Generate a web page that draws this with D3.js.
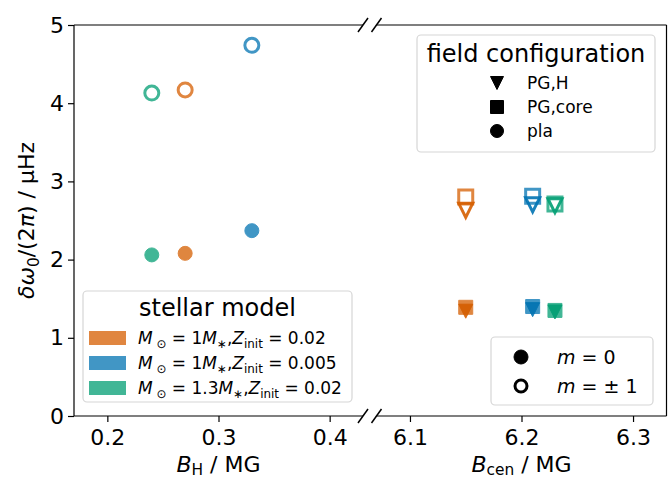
<!DOCTYPE html>
<html>
<head>
<meta charset="utf-8">
<script src="https://cdn.jsdelivr.net/npm/d3@7"></script>
<style>
  html, body { margin: 0; padding: 0; background: #fff; }
  svg { display: block; font-family: "DejaVu Sans", sans-serif; }
</style>
</head>
<body>
<svg id="chart" width="668" height="481"></svg>
<script>
// Stellar models (colour per model)
const models = ["1Msun_Z0.02", "1Msun_Z0.005", "1.3Msun_Z0.02"];
const modelColors = ["#d55e00", "#0173b2", "#029e73"];

// Left panel: "pla" field, x = B_H (MG)
const bH = [0.27, 0.33, 0.24];
const plaM0 = [2.08, 2.37, 2.06];
const plaM1 = [4.17, 4.74, 4.13];

// Right panel: "PG" fields, x = B_cen (MG)
const bCen = [6.15, 6.21, 6.23];
const pgCoreM0 = [1.39, 1.40, 1.35];
const pgCoreM1 = [2.80, 2.81, 2.71];
const pgHM0 = [1.34, 1.36, 1.33];
const pgHM1 = [2.63, 2.70, 2.69];

// Tick values
const yTicks = [0, 1, 2, 3, 4, 5];
const xTicksLeft = [0.2, 0.3, 0.4];
const xTicksRight = [6.1, 6.2, 6.3];

const svg = d3.select("#chart");
const FS_TICK = 22, FS_LABEL = 22, FS_LTITLE = 24, FS_LENTRY = 17;

const y = d3.scaleLinear().domain([0, 5]).range([416, 25]);
const xL = d3.scaleLinear().domain([0.17, 0.43]).range([74, 363]);
const xR = d3.scaleLinear().domain([6.07, 6.33]).range([376.5, 666.5]);

// Rich text helper: segments {t, it, sub}
function rich(sel, segs, fs, shift = 0.22) {
  let shifted = false;
  segs.forEach(s => {
    const ts = sel.append("tspan").text(s.t);
    if (s.it) ts.attr("font-style", "italic");
    if (s.sub) {
      ts.attr("font-size", fs * 0.7);
      if (!shifted) { ts.attr("dy", fs * shift); shifted = true; }
    } else if (shifted) {
      ts.attr("dy", -fs * shift); shifted = false;
    }
  });
  return sel;
}

// Marker shapes
const S = 7;
function markerPath(shape, s = S) {
  if (shape === "tri") return `M${-s},${-s}L${s},${-s}L0,${s}Z`;
  if (shape === "sq") return `M${-s},${-s}H${s}V${s}H${-s}Z`;
  const p = d3.path(); p.arc(0, 0, s, 0, 2 * Math.PI); p.closePath(); return p.toString();
}
function drawMarker(g, cx, cy, shape, color, open, alpha, s = S) {
  g.append("path")
    .attr("d", markerPath(shape, s))
    .attr("transform", `translate(${cx},${cy})`)
    .attr("fill", open ? "none" : color)
    .attr("stroke", color)
    .attr("stroke-width", open ? 3 : 1)
    .attr("stroke-linejoin", "miter")
    .attr("opacity", alpha);
}

// ---- Axes ----
const axG = svg.append("g").attr("fill", "none").attr("stroke", "#000").attr("stroke-width", 1.2);
// left panel spines
axG.append("line").attr("x1", xL.range()[0]).attr("x2", xL.range()[0]).attr("y1", y(5)).attr("y2", y(0));
axG.append("line").attr("x1", xL.range()[0]).attr("x2", xL.range()[1]).attr("y1", y(5)).attr("y2", y(5));
axG.append("line").attr("x1", xL.range()[0]).attr("x2", xL.range()[1]).attr("y1", y(0)).attr("y2", y(0));
// right panel spines
axG.append("line").attr("x1", xR.range()[1]).attr("x2", xR.range()[1]).attr("y1", y(5)).attr("y2", y(0));
axG.append("line").attr("x1", xR.range()[0]).attr("x2", xR.range()[1]).attr("y1", y(5)).attr("y2", y(5));
axG.append("line").attr("x1", xR.range()[0]).attr("x2", xR.range()[1]).attr("y1", y(0)).attr("y2", y(0));
// break marks
[xL.range()[1], xR.range()[0]].forEach(bx => {
  [y(5), y(0)].forEach(by => {
    axG.append("line").attr("x1", bx - 5).attr("y1", by + 7).attr("x2", bx + 5).attr("y2", by - 7)
      .attr("stroke-width", 1.5);
  });
});

function styleAxis(g) {
  g.select(".domain").remove();
  g.selectAll(".tick line").attr("stroke", "#000").attr("stroke-width", 1.2);
  g.selectAll(".tick text").attr("font-size", FS_TICK).attr("fill", "#000")
    .attr("font-family", "DejaVu Sans");
}
svg.append("g").attr("transform", `translate(${xL.range()[0]},0)`)
  .call(d3.axisLeft(y).tickValues(yTicks).tickSize(6).tickPadding(4).tickFormat(d3.format("d")))
  .call(styleAxis);
svg.append("g").attr("transform", `translate(0,${y(0)})`)
  .call(d3.axisBottom(xL).tickValues(xTicksLeft).tickSize(6).tickPadding(7).tickFormat(d3.format(".1f")))
  .call(styleAxis);
svg.append("g").attr("transform", `translate(0,${y(0)})`)
  .call(d3.axisBottom(xR).tickValues(xTicksRight).tickSize(6).tickPadding(7).tickFormat(d3.format(".1f")))
  .call(styleAxis);

// Axis labels
rich(svg.append("text").attr("x", d3.mean(xL.range())).attr("y", 472).attr("text-anchor", "middle")
  .attr("font-size", FS_LABEL),
  [{t: "B", it: true}, {t: "H", sub: true}, {t: " / MG"}], FS_LABEL, 0.15);
rich(svg.append("text").attr("x", d3.mean(xR.range())).attr("y", 472).attr("text-anchor", "middle")
  .attr("font-size", FS_LABEL),
  [{t: "B", it: true}, {t: "cen", sub: true}, {t: " / MG"}], FS_LABEL, 0.15);
rich(svg.append("text").attr("transform", `translate(34,${(y(0) + y(5)) / 2}) rotate(-90)`)
  .attr("text-anchor", "middle").attr("font-size", FS_LABEL),
  [{t: "δω", it: true}, {t: "0", sub: true}, {t: "/(2"}, {t: "π", it: true}, {t: ") / μHz"}], FS_LABEL);

// ---- Data markers ----
const plot = svg.append("g");
const A = 0.75, AT = 0.9;
models.forEach((m, i) => {
  const c = modelColors[i];
  drawMarker(plot, xL(bH[i]), y(plaM0[i]), "circ", c, false, A);
  drawMarker(plot, xL(bH[i]), y(plaM1[i]), "circ", c, true, A);
  drawMarker(plot, xR(bCen[i]), y(pgCoreM0[i]), "sq", c, false, A);
  drawMarker(plot, xR(bCen[i]), y(pgCoreM1[i]), "sq", c, true, A);
  drawMarker(plot, xR(bCen[i]), y(pgHM0[i]), "tri", c, false, AT);
  drawMarker(plot, xR(bCen[i]), y(pgHM1[i]), "tri", c, true, AT);
});

// ---- Legends ----
function legendBox(x0, y0, x1, y1) {
  svg.append("rect").attr("x", x0).attr("y", y0).attr("width", x1 - x0).attr("height", y1 - y0)
    .attr("rx", 4).attr("fill", "#fff").attr("fill-opacity", 0.8)
    .attr("stroke", "#d6d6d6").attr("stroke-width", 1.2);
}

// Field configuration
legendBox(417, 35, 655, 152);
svg.append("text").attr("x", 536).attr("y", 62).attr("text-anchor", "middle")
  .attr("font-size", FS_LTITLE).text("field configuration");
const fieldNames = ["PG,H", "PG,core", "pla"];
const fieldShapes = ["tri", "sq", "circ"];
const fieldRowY = [83, 107, 131];
fieldNames.forEach((n, i) => {
  drawMarker(svg, 497, fieldRowY[i], fieldShapes[i], "#000", false, 1, 6.5);
  svg.append("text").attr("x", 527).attr("y", fieldRowY[i] + 6).attr("font-size", FS_LENTRY).text(n);
});

// Stellar model
legendBox(83, 291, 352, 402);
svg.append("text").attr("x", 217.5).attr("y", 316).attr("text-anchor", "middle")
  .attr("font-size", FS_LTITLE).text("stellar model");
const modelMass = ["1", "1", "1.3"];
const modelZ = ["0.02", "0.005", "0.02"];
const modelRowY = [338, 363, 388];
models.forEach((m, i) => {
  svg.append("rect").attr("x", 89).attr("y", modelRowY[i] - 7).attr("width", 37).attr("height", 14)
    .attr("fill", modelColors[i]).attr("opacity", A);
  rich(svg.append("text").attr("x", 138).attr("y", modelRowY[i] + 6).attr("font-size", FS_LENTRY),
    [{t: "M", it: true}, {t: " ⊙", sub: true}, {t: " = " + modelMass[i]}, {t: "M", it: true},
     {t: "∗", sub: true}, {t: ","}, {t: "Z", it: true}, {t: "init", sub: true},
     {t: " = " + modelZ[i]}], FS_LENTRY);
});

// Azimuthal order
legendBox(491, 337, 653, 405);
const mLabels = ["0", "± 1"];
const mOpen = [false, true];
const mRowY = [357, 386];
mLabels.forEach((l, i) => {
  drawMarker(svg, 521, mRowY[i], "circ", "#000", mOpen[i], 1, mOpen[i] ? 6 : 7);
  rich(svg.append("text").attr("x", 557).attr("y", mRowY[i] + 7).attr("font-size", 19),
    [{t: "m", it: true}, {t: " = " + (i ? " " : "") + l}], 19);
});
</script>
</body>
</html>
